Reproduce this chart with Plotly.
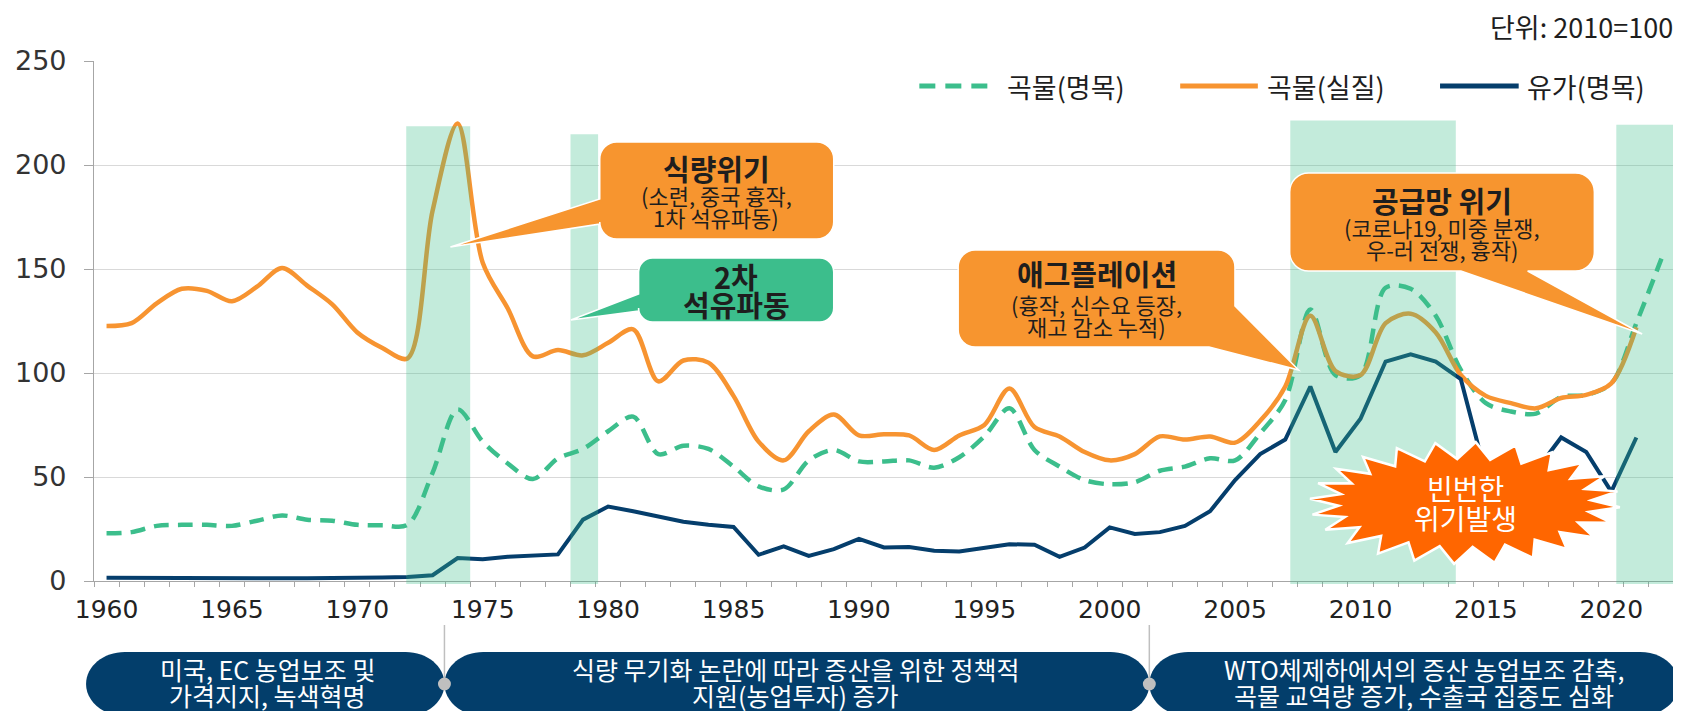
import math
import plotly.graph_objects as go

# ---------------- data ----------------
years = list(range(1960, 2023))

grain_nominal = [23, 23.5, 26.5, 27, 27, 26.5, 29, 31.5, 29.5, 29,
                 27, 26.8, 27, 52, 82.5, 67, 56.5, 49, 59, 63.5,
                 72, 79, 61, 65, 63.5, 55, 45.5, 44, 58, 63,
                 57.5, 57.5, 58, 54.5, 59.5, 69.5, 83, 63, 55, 48.5,
                 46.5, 47.5, 53, 55, 59, 58, 71, 87, 130.5, 99,
                 99, 141, 140.5, 127.5, 101.5, 85.5, 81.5, 80.5, 88.5, 89.5,
                 95, 124, 155]

grain_real = [122.6, 124, 133.5, 140.5, 139.5, 134.5, 141.5, 150.5, 142, 133,
              119.5, 112, 107, 178, 220, 153, 131, 108, 111, 108.5,
              114.5, 121, 96, 106, 105, 89, 67, 58, 72, 80,
              70, 70.5, 70, 63, 70, 75, 92.5, 74, 69.5, 62,
              58, 61, 69.5, 68, 69.5, 66.5, 77, 93.5, 127.5, 101,
              99, 124, 128.5, 119.5, 99, 89, 85.5, 83, 88, 89.5,
              95, 122, None]

oil_price = [1.6, 1.5, 1.4, 1.4, 1.3, 1.3, 1.3, 1.3, 1.3, 1.3,
             1.3, 1.7, 1.9, 2.8, 11, 10.5, 11.6, 12.4, 12.8, 29.5,
             35.8, 33.5, 31, 28.5, 27, 26, 12.6, 16.6, 12.1, 15.3,
             20.2, 16.1, 16.3, 14.5, 14.2, 15.8, 17.7, 17.4, 11.6, 16.1,
             25.8, 22.6, 23.5, 26.5, 33.5, 48.5, 61, 68, 93.5, 62,
             78, 105.5, 109, 105.5, 97, 51, 43, 53, 69, 62,
             43, 69, None]

series_names = ["곡물(명목)", "곡물(실질)", "유가(명목)"]
y_ticks = [0, 50, 100, 150, 200, 250]
x_ticks = list(range(1960, 2021, 5))
# crisis periods (start year, end year, band height)
crisis_bands = [(1971.95, 1974.5, 218.6), (1978.5, 1979.6, 214.8),
                (2007.2, 2013.8, 221.4), (2020.2, 2022.5, 219.3)]

unit_text = "단위: 2010=100"
callout_food = ["식량위기", "(소련, 중국 흉작,", "1차 석유파동)"]
callout_oil2 = ["2차", "석유파동"]
callout_agfl = ["애그플레이션", "(흉작, 신수요 등장,", "재고 감소 누적)"]
callout_supply = ["공급망 위기", "(코로나19, 미중 분쟁,", "우-러 전쟁, 흉작)"]
burst_text = ["빈번한", "위기발생"]
era_texts = [["미국, EC 농업보조 및", "가격지지, 녹색혁명"],
             ["식량 무기화 논란에 따라 증산을 위한 정책적", "지원(농업투자) 증가"],
             ["WTO체제하에서의 증산 농업보조 감축,", "곡물 교역량 증가, 수출국 집중도 심화"]]

# ---------------- styling ----------------
PAGE_W, PAGE_H = 1681, 711
OFF = 8                       # default body margin of the html page
W, H = PAGE_W - OFF, PAGE_H - OFF
PL, PR, PT, PB = 87, 1674, 61, 581   # plot area in page pixels
ML, MT = PL - OFF, PT - OFF
MR, MB = PAGE_W - PR, PAGE_H - PB
PW, PH = PR - PL, PB - PT
XMIN, XMAX = 1959.5, 2022.5
YMAX = 250

C_GREEN = "#3CBE8C"
C_ORANGE = "#F79431"
C_NAVY = "#053E6C"
C_BOX = "#F7952F"
C_PILL = "#033E6B"
C_BURST = "#FF6600"
BAND = "rgba(61,190,139,0.31)"
KR = "Noto Sans CJK KR"
TXT = "#1e1e1e"


def X(px):
    return (px - PL) / PW


def Y(py):
    return (PB - py) / PH


def XY(year):
    return (year - XMIN) / (XMAX - XMIN)


def pt(cmd, *coords):
    out = []
    for i in range(0, len(coords), 2):
        out.append(f"{X(coords[i]):.5f},{Y(coords[i + 1]):.5f}")
    return cmd + " ".join(out) + " "


def rrect(x0, y0, x1, y1, r, left=None, bottom=None, right=None, br=None):
    k = 0.5523 * r
    s = pt("M", x0 + r, y0)
    s += pt("L", x1 - r, y0) + pt("C", x1 - r + k, y0, x1, y0 + r - k, x1, y0 + r)
    if br is not None:
        for p in br:
            s += pt("L", *p)
    else:
        if right:
            for p in right:
                s += pt("L", *p)
        s += pt("L", x1, y1 - r) + pt("C", x1, y1 - r + k, x1 - r + k, y1, x1 - r, y1)
    if bottom:
        for p in bottom:
            s += pt("L", *p)
    s += pt("L", x0 + r, y1) + pt("C", x0 + r - k, y1, x0, y1 - r + k, x0, y1 - r)
    if left:
        for p in left:
            s += pt("L", *p)
    s += pt("L", x0, y0 + r) + pt("C", x0, y0 + r - k, x0 + r - k, y0, x0 + r, y0)
    return s + "Z"


def pill(x0, x1, yc, rx, ry):
    k = 0.5523
    s = pt("M", x0, yc)
    s += pt("C", x0, yc - ry * k, x0 + rx - rx * k, yc - ry, x0 + rx, yc - ry)
    s += pt("L", x1 - rx, yc - ry)
    s += pt("C", x1 - rx + rx * k, yc - ry, x1, yc - ry * k, x1, yc)
    s += pt("C", x1, yc + ry * k, x1 - rx + rx * k, yc + ry, x1 - rx, yc + ry)
    s += pt("L", x0 + rx, yc + ry)
    s += pt("C", x0 + rx - rx * k, yc + ry, x0, yc + ry * k, x0, yc)
    return s + "Z"


def starburst(cx, cy, rxo, ryo, rxi, ryi, n):
    s = ""
    for i in range(2 * n):
        a = math.pi * i / n + 0.07
        rx, ry = (rxo, ryo) if i % 2 == 0 else (rxi, ryi)
        s += pt("M" if i == 0 else "L", cx + rx * math.cos(a), cy + ry * math.sin(a))
    return s + "Z"


fig = go.Figure()
fig.add_trace(go.Scatter(x=years, y=grain_nominal, name=series_names[0], mode="lines",
                         line=dict(color=C_GREEN, width=4.5, dash="15px,9px", shape="spline", smoothing=0.9)))
fig.add_trace(go.Scatter(x=years, y=grain_real, name=series_names[1], mode="lines",
                         line=dict(color=C_ORANGE, width=4.5, shape="spline", smoothing=0.9)))
fig.add_trace(go.Scatter(x=years, y=oil_price, name=series_names[2], mode="lines",
                         line=dict(color=C_NAVY, width=4)))

shapes = []
# crisis bands (translucent, above lines)
for (a, b, top) in crisis_bands:
    shapes.append(dict(type="rect", xref="paper", yref="paper", x0=XY(a), x1=XY(b),
                       y0=-0.006, y1=top / YMAX, fillcolor=BAND, line=dict(width=0), layer="above"))

wl = dict(color="white", width=1.5)
# callouts
shapes.append(dict(type="path", xref="paper", yref="paper", layer="above", fillcolor=C_BOX, line=wl,
                   path=rrect(595, 142, 830, 239, 17, left=[(595, 224), (445, 247), (595, 199)])))
shapes.append(dict(type="path", xref="paper", yref="paper", layer="above", fillcolor=C_GREEN, line=wl,
                   path=rrect(634, 258, 830, 322, 14, left=[(634, 311), (566, 320), (634, 294)])))
shapes.append(dict(type="path", xref="paper", yref="paper", layer="above", fillcolor=C_BOX, line=wl,
                   path=rrect(955, 250, 1233, 347, 17, br=[(1233, 306), (1297, 370), (1207, 347)])))
shapes.append(dict(type="path", xref="paper", yref="paper", layer="above", fillcolor=C_BOX, line=wl,
                   path=rrect(1288, 173, 1594, 271, 19, bottom=[(1527, 271), (1642, 334), (1460, 271)])))
# starburst
shapes.append(dict(type="path", xref="paper", yref="paper", layer="above", fillcolor=C_BURST,
                   line=dict(color="white", width=2.5),
                   path=starburst(1464, 503, 156, 61, 127, 44, 24)))

# legend samples
shapes.append(dict(type="line", xref="paper", yref="paper", x0=X(916), x1=X(988), y0=Y(86), y1=Y(86),
                   line=dict(color=C_GREEN, width=5, dash="16px,10px"), layer="above"))
shapes.append(dict(type="line", xref="paper", yref="paper", x0=X(1178), x1=X(1256), y0=Y(86), y1=Y(86),
                   line=dict(color=C_ORANGE, width=5), layer="above"))
shapes.append(dict(type="line", xref="paper", yref="paper", x0=X(1439), x1=X(1518), y0=Y(86), y1=Y(86),
                   line=dict(color=C_NAVY, width=5), layer="above"))

# era pills
pill_edges = [79, 439, 1147, 1679]
for i in range(3):
    shapes.append(dict(type="path", xref="paper", yref="paper", layer="above", fillcolor=C_PILL,
                       line=dict(width=0), path=pill(pill_edges[i], pill_edges[i + 1], 684, 39, 32)))
for xc in pill_edges[1:3]:
    shapes.append(dict(type="line", xref="paper", yref="paper", x0=X(xc), x1=X(xc), y0=Y(625), y1=Y(684),
                       line=dict(color="#BFBFBF", width=1.5), layer="above"))
    shapes.append(dict(type="circle", xref="paper", yref="paper", x0=X(xc - 6.5), x1=X(xc + 6.5),
                       y0=Y(690.5), y1=Y(677.5), fillcolor="#BFBFBF", line=dict(width=0), layer="above"))

anns = []


def txt(x, y, s, size, color=TXT, bold=False, xanchor="center", family=KR):
    anns.append(dict(xref="paper", yref="paper", x=X(x), y=Y(y), text=f"<b>{s}</b>" if bold else s,
                     showarrow=False, xanchor=xanchor, yanchor="middle",
                     font=dict(family=family, size=size, color=color)))


txt(1675, 26, unit_text, 27, xanchor="right")
txt(1002, 86, series_names[0], 27, xanchor="left")
txt(1263, 86, series_names[1], 27, xanchor="left")
txt(1524, 86, series_names[2], 27, xanchor="left")

TS, SS = 29, 22
txt(712, 168, callout_food[0], TS, bold=True)
txt(712, 195, callout_food[1], SS)
txt(712, 217, callout_food[2], SS)
txt(732, 276, callout_oil2[0], TS, bold=True)
txt(732, 304, callout_oil2[1], TS, bold=True)
txt(1094, 273, callout_agfl[0], TS, bold=True)
txt(1094, 304, callout_agfl[1], SS)
txt(1094, 326, callout_agfl[2], SS)
txt(1441, 200, callout_supply[0], TS, bold=True)
txt(1441, 227, callout_supply[1], SS)
txt(1441, 249, callout_supply[2], SS)
txt(1465, 488, burst_text[0], 28, color="white")
txt(1465, 518, burst_text[1], 28, color="white")

era_cx = [261, 792, 1423]
for i in range(3):
    txt(era_cx[i], 669, era_texts[i][0], 25, color="white")
    txt(era_cx[i], 695, era_texts[i][1], 25, color="white")

fig.update_layout(
    width=W, height=H,
    margin=dict(l=ML, r=MR, t=MT, b=MB, pad=0),
    paper_bgcolor="white", plot_bgcolor="white",
    showlegend=False,
    shapes=shapes, annotations=anns,
    xaxis=dict(range=[XMIN, XMAX], tickmode="array", tickvals=x_ticks,
               ticktext=[str(v) for v in x_ticks], ticks="", showgrid=False, zeroline=False,
               showline=True, linecolor="#A6A6A6", linewidth=1.2,
               tickfont=dict(family="DejaVu Sans", size=25, color="#222222"),
               ticklabelstandoff=6,
               minor=dict(tickmode="array", tickvals=[XMIN + i for i in range(64)],
                          ticks="outside", ticklen=5, tickcolor="#A6A6A6", tickwidth=1.2, showgrid=False)),
    yaxis=dict(range=[0, YMAX], tickmode="array", tickvals=y_ticks, ticks="outside", ticklen=9,
               tickcolor="#A6A6A6", tickwidth=1.2, showgrid=True, gridcolor="#D9D9D9", gridwidth=1.3,
               zeroline=False, showline=True, linecolor="#A6A6A6", linewidth=1.2,
               tickfont=dict(family="DejaVu Sans", size=27, color="#333333"),
               ticklabelstandoff=12),
)

fig.write_html("out.html")
